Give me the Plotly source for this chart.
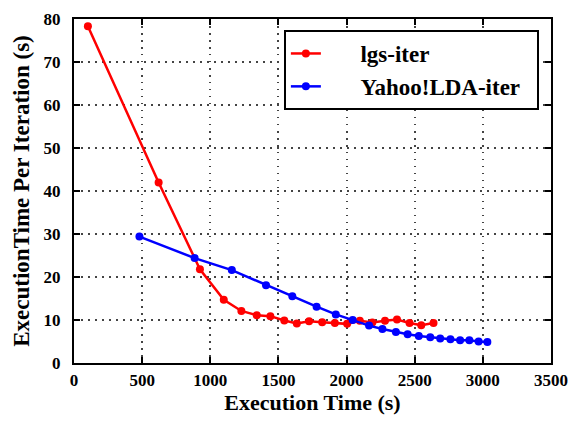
import plotly.graph_objects as go

lgs_x = [102, 621, 924, 1099, 1228, 1341, 1441, 1543, 1635, 1725, 1821, 1914, 2004,
         2097, 2189, 2282, 2370, 2462, 2548, 2638]
lgs_y = [78.3, 42.0, 21.8, 14.7, 12.1, 11.1, 10.9, 9.9, 9.2, 9.7, 9.5, 9.3, 9.1,
         9.8, 9.4, 9.8, 10.1, 9.3, 8.8, 9.3]

yahoo_x = [480, 885, 1158, 1409, 1602, 1780, 1921, 2045, 2165, 2263, 2362, 2448, 2530,
           2614, 2687, 2762, 2833, 2901, 2969, 3033]
yahoo_y = [29.4, 24.4, 21.6, 18.1, 15.5, 13.1, 11.3, 10.0, 8.7, 7.9, 7.2, 6.7, 6.3,
           6.0, 5.7, 5.5, 5.3, 5.3, 5.0, 4.9]

x_ticks = [0, 500, 1000, 1500, 2000, 2500, 3000, 3500]
y_ticks = [0, 10, 20, 30, 40, 50, 60, 70, 80]

FONT = "Liberation Serif, Times New Roman, serif"
SP = "&nbsp;" * 6
END = "&nbsp;" * 2

fig = go.Figure()
fig.add_trace(go.Scatter(x=lgs_x, y=lgs_y, mode="lines+markers",
                         name=SP + "lgs-iter",
                         line=dict(color="#ff0000", width=2.5),
                         marker=dict(color="#ff0000", size=8)))
fig.add_trace(go.Scatter(x=yahoo_x, y=yahoo_y, mode="lines+markers",
                         name=SP + "Yahoo!LDA-iter" + END,
                         line=dict(color="#0000ff", width=2.5),
                         marker=dict(color="#0000ff", size=8)))

axis_common = dict(
    showline=True, linecolor="black", linewidth=2, mirror="ticks",
    ticks="inside", ticklen=6, tickwidth=1.5, tickcolor="black",
    showgrid=True, gridcolor="#444444", gridwidth=1.5, griddash="1.5px,5.5px",
    zeroline=False, automargin=False,
    tickfont=dict(family=FONT, size=17, color="black", weight="bold"),
)

fig.update_xaxes(range=[0, 3500], tickvals=x_ticks, ticktext=[str(v) for v in x_ticks],
                 title=dict(text="Execution Time (s)", standoff=2,
                            font=dict(family=FONT, size=22, color="black", weight="bold")),
                 ticklabelstandoff=1,
                 **axis_common)
fig.update_yaxes(range=[0, 80], tickvals=y_ticks, ticktext=[str(v) for v in y_ticks],
                 title=dict(text="ExecutionTime Per Iteration (s)", standoff=8,
                            font=dict(family=FONT, size=23, color="black", weight="bold")),
                 ticklabelstandoff=8,
                 **axis_common)

fig.update_layout(
    width=579, height=422,
    margin=dict(l=74, r=28, t=19, b=59),
    plot_bgcolor="white", paper_bgcolor="white",
    showlegend=True,
    legend=dict(x=0.44, y=0.968, xanchor="left", yanchor="top",
                bgcolor="white", bordercolor="black", borderwidth=2,
                font=dict(family=FONT, size=23, color="black", weight="bold")),
)

fig.write_html("out.html")
